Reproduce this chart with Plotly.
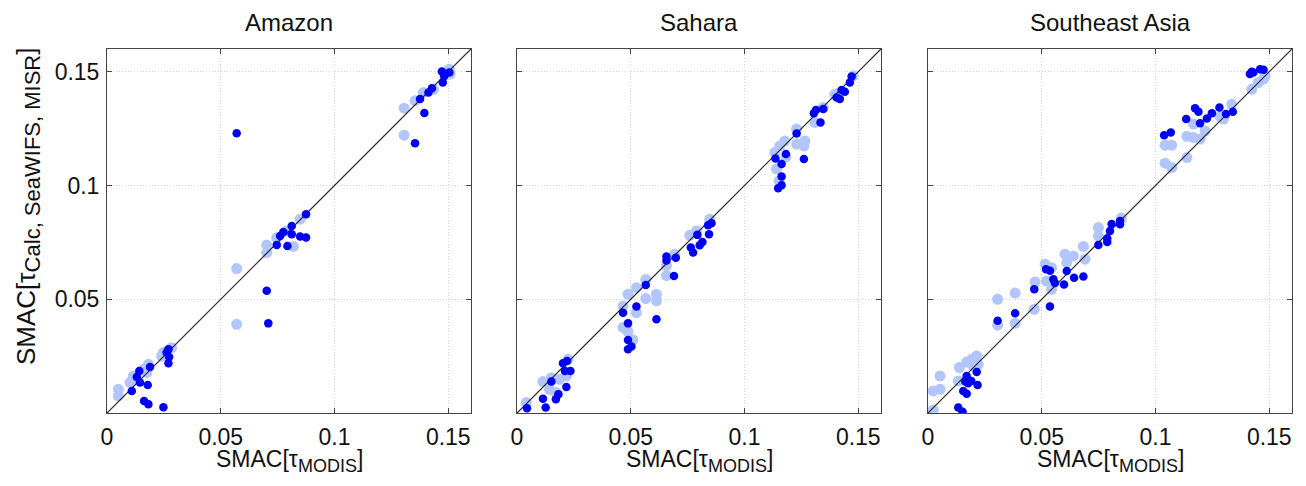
import plotly.graph_objects as go

# panel titles and tick labels
regions = ["Amazon", "Sahara", "Southeast Asia"]
x_ticks = [0, 0.05, 0.1, 0.15]
x_tick_text = ["0", "0.05", "0.1", "0.15"]
y_ticks = [0.05, 0.1, 0.15]
y_tick_text = ["0.05", "0.1", "0.15"]
one_to_one = [0, 0.16]

# (SMAC[tau_MODIS], SMAC[tau_calc]) pairs
amazon_light = [
    (0.0050, 0.0104), (0.0050, 0.0075), (0.0101, 0.0134), (0.0116, 0.0163), (0.0130, 0.0150),
    (0.0160, 0.0192), (0.0175, 0.0178), (0.0182, 0.0214), (0.0240, 0.0250), (0.0248, 0.0266),
    (0.0284, 0.0287), (0.0570, 0.0635), (0.0570, 0.0390), (0.0702, 0.0739), (0.0702, 0.0705),
    (0.0746, 0.0770), (0.0790, 0.0800), (0.0819, 0.0732), (0.0849, 0.0852), (0.1306, 0.1340),
    (0.1306, 0.1221), (0.1354, 0.1372), (0.1391, 0.1409), (0.1435, 0.1423), (0.1505, 0.1511),
    (0.1508, 0.1490),
]
amazon_dark = [
    (0.0109, 0.0097), (0.0145, 0.0134), (0.0131, 0.0158), (0.0142, 0.0185), (0.0179, 0.0123),
    (0.0189, 0.0202), (0.0163, 0.0053), (0.0182, 0.0038), (0.0248, 0.0025), (0.0270, 0.0280),
    (0.0262, 0.0266), (0.0273, 0.0246), (0.0270, 0.0219), (0.0570, 0.1230), (0.0702, 0.0537),
    (0.0709, 0.0394), (0.0746, 0.0739), (0.0761, 0.0778), (0.0775, 0.0796), (0.0793, 0.0734),
    (0.0812, 0.0822), (0.0812, 0.0786), (0.0849, 0.0776), (0.0875, 0.0771), (0.0875, 0.0874),
    (0.1354, 0.1186), (0.1376, 0.1380), (0.1395, 0.1319), (0.1413, 0.1409), (0.1428, 0.1427),
    (0.1472, 0.1501), (0.1476, 0.1453), (0.1482, 0.1480), (0.1505, 0.1497),
]

sahara_light = [
    (0.0041, 0.0046), (0.0114, 0.0138), (0.0143, 0.0104), (0.0151, 0.0155), (0.0173, 0.0090),
    (0.0187, 0.0148), (0.0217, 0.0163), (0.0224, 0.0236), (0.0466, 0.0470), (0.0466, 0.0376),
    (0.0488, 0.0522), (0.0488, 0.0358), (0.0510, 0.0321), (0.0525, 0.0551), (0.0525, 0.0441),
    (0.0566, 0.0587), (0.0566, 0.0503), (0.0613, 0.0522), (0.0613, 0.0493), (0.0657, 0.0648),
    (0.0657, 0.0604), (0.0693, 0.0698), (0.0759, 0.0781), (0.0789, 0.0800), (0.0847, 0.0852),
    (0.1133, 0.1145), (0.1141, 0.1072), (0.1152, 0.1020), (0.1155, 0.1174), (0.1177, 0.1196),
    (0.1182, 0.1125), (0.1229, 0.1248), (0.1229, 0.1182), (0.1261, 0.1174), (0.1265, 0.1196),
    (0.1309, 0.1277), (0.1346, 0.1343), (0.1397, 0.1401), (0.1412, 0.1405), (0.1478, 0.1482),
]
sahara_dark = [
    (0.0044, 0.0021), (0.0114, 0.0063), (0.0126, 0.0024), (0.0151, 0.0138), (0.0171, 0.0060),
    (0.0182, 0.0082), (0.0202, 0.0219), (0.0211, 0.0185), (0.0217, 0.0114), (0.0220, 0.0229),
    (0.0235, 0.0185), (0.0466, 0.0441), (0.0488, 0.0394), (0.0488, 0.0321), (0.0488, 0.0280),
    (0.0503, 0.0292), (0.0525, 0.0468), (0.0566, 0.0563), (0.0613, 0.0412), (0.0657, 0.0688),
    (0.0657, 0.0670), (0.0690, 0.0602), (0.0698, 0.0682), (0.0764, 0.0727), (0.0774, 0.0705),
    (0.0793, 0.0783), (0.0803, 0.0737), (0.0815, 0.0752), (0.0840, 0.0825), (0.0844, 0.0786),
    (0.0855, 0.0834), (0.1136, 0.1119), (0.1148, 0.0988), (0.1163, 0.1095), (0.1163, 0.1040),
    (0.1163, 0.1001), (0.1182, 0.1138), (0.1229, 0.1229), (0.1261, 0.1116), (0.1305, 0.1318),
    (0.1314, 0.1332), (0.1334, 0.1277), (0.1346, 0.1336), (0.1405, 0.1387), (0.1419, 0.1380),
    (0.1427, 0.1420), (0.1441, 0.1412), (0.1463, 0.1453), (0.1471, 0.1479),
]

seasia_light = [
    (0.0023, 0.0013), (0.0023, 0.0097), (0.0053, 0.0104), (0.0053, 0.0163), (0.0133, 0.0141),
    (0.0138, 0.0200), (0.0170, 0.0224), (0.0192, 0.0236), (0.0199, 0.0207), (0.0214, 0.0251),
    (0.0221, 0.0214), (0.0306, 0.0500), (0.0306, 0.0386), (0.0383, 0.0527), (0.0383, 0.0394),
    (0.0467, 0.0456), (0.0471, 0.0576), (0.0515, 0.0654), (0.0521, 0.0580), (0.0543, 0.0639),
    (0.0543, 0.0544), (0.0602, 0.0698), (0.0610, 0.0661), (0.0639, 0.0690), (0.0683, 0.0732),
    (0.0690, 0.0676), (0.0749, 0.0815), (0.0749, 0.0779), (0.0850, 0.0857), (0.1042, 0.1177),
    (0.1042, 0.1098), (0.1071, 0.1177), (0.1072, 0.1079), (0.1138, 0.1216), (0.1138, 0.1123),
    (0.1167, 0.1270), (0.1167, 0.1211), (0.1196, 0.1204), (0.1218, 0.1240), (0.1284, 0.1303),
    (0.1299, 0.1292), (0.1335, 0.1357), (0.1423, 0.1423), (0.1452, 0.1453), (0.1475, 0.1468),
    (0.1482, 0.1482),
]
seasia_dark = [
    (0.0133, 0.0024), (0.0152, 0.0005), (0.0155, 0.0097), (0.0164, 0.0138), (0.0170, 0.0163),
    (0.0170, 0.0085), (0.0176, 0.0131), (0.0190, 0.0141), (0.0214, 0.0180), (0.0218, 0.0123),
    (0.0306, 0.0405), (0.0383, 0.0438), (0.0467, 0.0544), (0.0519, 0.0632), (0.0536, 0.0625),
    (0.0536, 0.0468), (0.0551, 0.0588), (0.0558, 0.0571), (0.0598, 0.0565), (0.0610, 0.0624),
    (0.0642, 0.0595), (0.0683, 0.0600), (0.0749, 0.0739), (0.0788, 0.0767), (0.0788, 0.0752),
    (0.0800, 0.0800), (0.0807, 0.0831), (0.0844, 0.0830), (0.0844, 0.0844), (0.1038, 0.1221),
    (0.1067, 0.1233), (0.1135, 0.1292), (0.1174, 0.1340), (0.1189, 0.1324), (0.1196, 0.1274),
    (0.1226, 0.1295), (0.1248, 0.1318), (0.1281, 0.1343), (0.1310, 0.1314), (0.1340, 0.1324),
    (0.1415, 0.1490), (0.1423, 0.1500), (0.1430, 0.1497), (0.1460, 0.1511), (0.1475, 0.1509),
]

panels = [
    (amazon_light, amazon_dark),
    (sahara_light, sahara_dark),
    (seasia_light, seasia_dark),
]

# the page body has an 8px margin, so the figure is 16px smaller than the window
W, H = 1290, 470
FONT = "Liberation Sans, Arial, sans-serif"
x_domains = [(99, 463), (509, 873), (920, 1284)]
y_domain = [(H - 405) / H, (H - 41) / H]

fig = go.Figure()
annotations = []

for i, (light, dark) in enumerate(panels):
    n = "" if i == 0 else str(i + 1)
    xa, ya = "x" + n, "y" + n

    fig.add_trace(go.Scatter(
        x=[p[0] for p in light], y=[p[1] for p in light], xaxis=xa, yaxis=ya,
        mode="markers", marker=dict(size=11, color="#b3c6fb", line=dict(width=0)),
        showlegend=False, hoverinfo="skip",
    ))
    fig.add_trace(go.Scatter(
        x=one_to_one, y=one_to_one, xaxis=xa, yaxis=ya,
        mode="lines", line=dict(color="#222222", width=1.2),
        showlegend=False, hoverinfo="skip",
    ))
    fig.add_trace(go.Scatter(
        x=[p[0] for p in dark], y=[p[1] for p in dark], xaxis=xa, yaxis=ya,
        mode="markers", marker=dict(size=8.5, color="#0000f5", line=dict(width=0)),
        showlegend=False, hoverinfo="skip",
    ))

    x0, x1 = x_domains[i]
    axis_common = dict(
        range=[0, 0.16], showline=True, linecolor="#444444", linewidth=1, mirror="all",
        ticks="inside", ticklen=5, tickcolor="#444444", automargin=False,
        showgrid=True, gridcolor="#d6d6d6", griddash="1px,2px", gridwidth=1,
        zeroline=False, tickfont=dict(family=FONT, size=23, color="#111111"),
    )
    fig.update_layout({
        "xaxis" + n: dict(axis_common, domain=[x0 / W, x1 / W], anchor=ya,
                          tickvals=x_ticks, ticktext=x_tick_text, ticklabelstandoff=3),
        "yaxis" + n: dict(axis_common, domain=y_domain, anchor=xa,
                          tickvals=y_ticks, ticktext=y_tick_text,
                          showticklabels=(i == 0), ticklabelstandoff=2),
    })

    cx = (x0 + x1) / 2 / W
    annotations.append(dict(
        text=regions[i], x=cx, y=1 - 14 / H, xref="paper", yref="paper",
        xanchor="center", yanchor="middle", showarrow=False,
        font=dict(family=FONT, size=24, color="#111111"),
    ))
    annotations.append(dict(
        text="SMAC[τ<sub><span style='font-size:18px'>MODIS</span></sub>]",
        x=cx, y=1 - 453 / H, xref="paper", yref="paper",
        xanchor="center", yanchor="middle", showarrow=False,
        font=dict(family=FONT, size=23, color="#111111"),
    ))

annotations.append(dict(
    text="SMAC[τ<sub><span style='font-size:22px'>Calc, SeaWIFS, MISR</span></sub>]",
    x=20 / W, y=1 - 199 / H,
    xref="paper", yref="paper", xanchor="center", yanchor="middle", textangle=-90,
    showarrow=False, font=dict(family=FONT, size=26, color="#111111"),
))

fig.update_layout(
    width=W, height=H, autosize=False,
    margin=dict(l=0, r=0, t=0, b=0),
    paper_bgcolor="white", plot_bgcolor="white",
    annotations=annotations,
)

fig.write_html("out.html")
